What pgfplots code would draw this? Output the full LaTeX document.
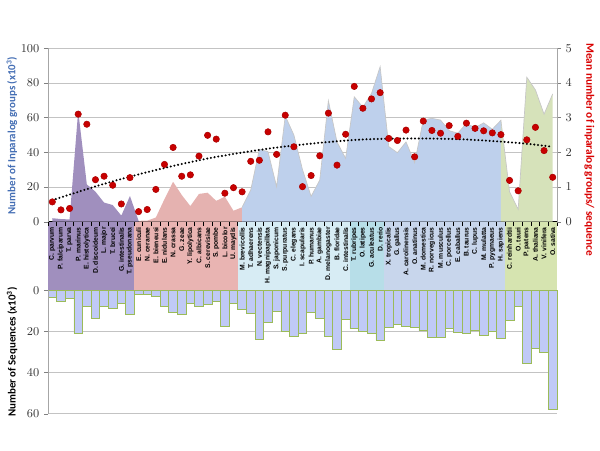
\documentclass[border=0pt]{standalone}
\usepackage{pgfplots}
\pgfplotsset{compat=1.18}
\usepackage{pgfplotstable}
\usepackage{fontspec}
\setmainfont{Carlito}
\newfontfamily\labfont{Liberation Sans}

\definecolor{areaP}{RGB}{160,143,190}
\definecolor{areaR}{RGB}{229,178,176}
\definecolor{areaB}{RGB}{190,208,236}
\definecolor{areaG}{RGB}{214,226,186}
\definecolor{band1}{RGB}{160,143,190}
\definecolor{band2}{RGB}{233,180,178}
\definecolor{band3}{RGB}{215,236,244}
\definecolor{band4}{RGB}{183,222,232}
\definecolor{band5}{RGB}{200,214,236}
\definecolor{band6}{RGB}{214,228,176}
\definecolor{barfill}{RGB}{192,202,246}
\definecolor{baredge}{RGB}{155,187,89}
\definecolor{dotred}{RGB}{200,0,0}
\definecolor{lblue}{RGB}{68,110,180}
\definecolor{gridgray}{RGB}{195,195,195}

% i: category index, area: inparalog groups (x10^3), mean: groups/sequence, seq: sequences (x10^3)
\pgfplotstableread{
i  area  mean  seq
0  2.0   0.57  3.6
1  1.5   0.34  5.3
2  1.3   0.38  4.1
3  64.0  3.10  21.0
4  21.5  2.81  7.7
5  17.3  1.21  13.4
6  11.0  1.31  7.6
7  9.6   1.05  8.9
8  3.5   0.51  6.2
9  14.8  1.27  11.7
10 0.5   0.29  1.9
11 0.6   0.35  1.9
12 2.4   0.93  2.8
13 13.0  1.65  7.8
14 23.0  2.14  10.6
15 15.4  1.31  11.7
16 9.0   1.35  6.2
17 16.0  1.89  8.0
18 16.7  2.49  6.9
19 12.0  2.38  5.4
20 14.4  0.82  17.4
21 6.3   0.98  6.2
22 8.3   0.86  9.1
23 18.3  1.74  11.4
24 41.7  1.77  23.9
25 40.4  2.59  15.6
26 20.2  1.94  10.0
27 61.0  3.07  20.0
28 50.0  2.16  22.4
29 30.0  1.01  21.0
30 14.6  1.33  10.8
31 24.0  1.90  13.7
32 69.8  3.13  22.3
33 46.0  1.63  28.5
34 36.5  2.52  14.2
35 72.0  3.90  18.6
36 66.0  3.27  19.9
37 74.0  3.54  20.8
38 89.4  3.72  24.2
39 43.3  2.40  18.1
40 39.8  2.34  16.6
41 46.0  2.64  17.6
42 34.0  1.87  18.1
43 58.6  2.90  19.7
44 59.6  2.63  22.9
45 58.6  2.55  22.9
46 52.5  2.77  18.7
47 51.0  2.46  20.5
48 56.7  2.84  21.0
49 54.2  2.69  19.5
50 57.0  2.62  21.8
51 53.3  2.56  20.0
52 58.5  2.51  23.4
53 17.3  1.19  14.5
54 7.1   0.89  7.7
55 83.3  2.36  35.6
56 76.0  2.72  28.3
57 62.0  2.05  30.2
58 73.7  1.28  58.0
}\datatable

\begin{document}
\begin{tikzpicture}
\path[use as bounding box] (0pt,0pt) rectangle (450pt,-337.5pt);

% ---- lower panel: group bands and sequence counts ----
\begin{axis}[
  at={(36pt,-166.3pt)}, anchor=north west,
  scale only axis, width=381.75pt, height=144pt,
  xmin=-0.5, xmax=58.5, ymin=-33.3, ymax=60, y dir=reverse,
  axis y line*=left, axis x line=none,
  y axis line style={draw=none},
  ytick={0,20,40,60},
  ymajorgrids, grid style={gridgray, line width=0.6pt},
  tick align=outside, major tick length=3pt,
  ytick style={gray},
  yticklabel style={font=\fontsize{8.8}{10}\selectfont, black!80},
  clip=false,
]
\addplot[fill=band1, draw=none] coordinates {(-0.5,-33.3) (9.5,-33.3)} \closedcycle;
\addplot[fill=band2, draw=none] coordinates {(9.5,-33.3) (21.5,-33.3)} \closedcycle;
\addplot[fill=band3, draw=none] coordinates {(21.5,-33.3) (34.5,-33.3)} \closedcycle;
\addplot[fill=band4, draw=none] coordinates {(34.5,-33.3) (38.5,-33.3)} \closedcycle;
\addplot[fill=band5, draw=none] coordinates {(38.5,-33.3) (52.5,-33.3)} \closedcycle;
\addplot[fill=band6, draw=none] coordinates {(52.5,-33.3) (58.5,-33.3)} \closedcycle;
\addplot[ybar, bar width=1, bar shift=0pt, draw=baredge, line width=0.5pt,
  fill=barfill] table[x=i, y=seq] {\datatable};
\draw[gray!70] (axis cs:-0.5,0) -- (axis cs:-0.5,60);
\end{axis}

% ---- upper panel: inparalog groups (area) ----
\begin{axis}[
  at={(36pt,-36.2pt)}, anchor=north west,
  scale only axis, width=381.75pt, height=130.05pt,
  xmin=-0.5, xmax=58.5, ymin=0, ymax=100,
  axis x line*=bottom, axis y line*=left,
  ytick={0,20,...,100},
  ymajorgrids, grid style={gridgray, line width=0.6pt},
  xtick={0,...,58},
  xticklabels={C. parvum, P. falciparum, T. parva, P. marinus, E. histolytica, D. discoideum, L. major, T. brucei, G. intestinalis, T. pseudonana,
    E. cuniculi, N. ceranae, E. bieneusi, E. nidulans, N. crassa, G. zeae, Y. lipolytica, C. albicans, S. cerevisiae, S. pombe, L. bicolor, U. maydis,
    M. brevicollis, T. adhaerens, N. vectensis, H. magnipapillata, S. japonicum, S. purpuratus, C. elegans, I. scapularis, P. humanus, A. gambiae, D. melanogaster, B. floridae, C. intestinalis,
    T. rubripes, O. latipes, G. aculeatus, D. rerio,
    X. tropicalis, G. gallus, A. carolinensis, O. anatinus, M. domestica, R. norvegicus, M. musculus, C. porcellus, E. caballus, B. taurus, C. lupus, M. mulatta, P. pygmaeus, H. sapiens,
    C. reinhardtii, O. tauri, P. patens, A. thaliana, V. vinifera, O. sativa},
  major x tick style={draw=none},
  minor xtick={-0.5,0.5,...,58.5},
  minor x tick style={black, line width=0.6pt},
  minor tick length=3pt, major tick length=3pt,
  tick align=outside,
  ytick style={gray},
  x axis line style={black, line width=1.2pt, -},
  y axis line style={gray!70, -},
  xticklabel style={rotate=90, anchor=east, inner sep=1pt, font=\labfont\bfseries\fontsize{5.1}{6}\selectfont, black},
  yticklabel style={font=\fontsize{8.8}{10}\selectfont, black!80},
  clip=false,
]
\addplot[fill=areaP, draw=none] table[x=i, y=area, restrict x to domain=0:10] {\datatable} \closedcycle;
\addplot[fill=areaR, draw=none] table[x=i, y=area, restrict x to domain=10:22] {\datatable} \closedcycle;
\addplot[fill=areaB, draw=none] table[x=i, y=area, restrict x to domain=22:52] {\datatable} \closedcycle;
\addplot[fill=areaG, draw=none] table[x=i, y=area, restrict x to domain=52:58] {\datatable} \closedcycle;
\addplot[gray!45, line width=0.5pt] table[x=i, y=area, restrict x to domain=22:58] {\datatable};
\end{axis}

% ---- upper panel: mean per sequence (right axis) ----
\begin{axis}[
  at={(36pt,-36.2pt)}, anchor=north west,
  scale only axis, width=381.75pt, height=130.05pt,
  xmin=-0.5, xmax=58.5, ymin=0, ymax=5,
  axis y line*=right, axis x line=none,
  ytick={0,...,5},
  tick align=outside, major tick length=3pt,
  ytick style={gray},
  y axis line style={gray!70, -},
  yticklabel style={font=\fontsize{8.8}{10}\selectfont, black!80},
  clip=false,
]
\addplot[black, line width=1.7pt, line cap=round, dash pattern=on 0pt off 2.8pt, smooth] coordinates {
  (0,0.62) (6,1.09) (12,1.49) (18,1.82) (24,2.07) (30,2.25) (36,2.37) (42,2.40) (48,2.37) (54,2.27) (58,2.16)};
\addplot[only marks, mark=*, mark size=2.4pt, draw=dotred!85!black, fill=dotred] table[x=i, y=mean] {\datatable};
\end{axis}

\node[rotate=90, font=\bfseries\fontsize{8.2}{9}\selectfont, text=lblue] at (9pt,-101.6pt) {Number of Inparalog groups (x10\textsuperscript{3})};
\node[rotate=90, font=\bfseries\fontsize{8.2}{9}\selectfont, text=black] at (9pt,-264pt) {Number of Sequences (x10\textsuperscript{3})};
\node[rotate=-90, anchor=west, font=\bfseries\fontsize{8.5}{10}\selectfont, text=red!85!black] at (442pt,-29pt) {Mean number of inparalog groups/ sequence};
\end{tikzpicture}
\end{document}
